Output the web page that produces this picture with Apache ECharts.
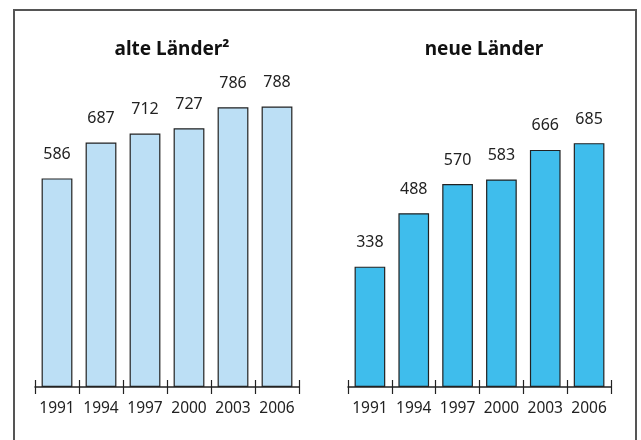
<!DOCTYPE html>
<html>
<head>
<meta charset="utf-8">
<script src="https://cdn.jsdelivr.net/npm/echarts@6/dist/echarts.min.js"></script>
<style>
  html, body { margin: 0; padding: 0; background: #fff; }
  #chart { width: 641px; height: 440px; }
</style>
</head>
<body>
<div id="chart"></div>
<script>
  // Jahre und Werte
  var years = ['1991', '1994', '1997', '2000', '2003', '2006'];
  var alteLaender = [586, 687, 712, 727, 786, 788];
  var neueLaender = [338, 488, 570, 583, 666, 685];
  var titles = ['alte Länder²', 'neue Länder'];

  var font = 'Noto Sans';
  var chart = echarts.init(document.getElementById('chart'));

  function xAxes(idx) {
    return [{
      type: 'category', gridIndex: idx, data: years, position: 'bottom',
      axisLine: { show: true, lineStyle: { color: '#222', width: 1.5 } },
      axisTick: { show: true, interval: 0, length: 7, lineStyle: { color: '#222', width: 1.2 } },
      axisLabel: { interval: 0, hideOverlap: false, color: '#222', fontSize: 15.5, fontFamily: font, margin: 14 }
    }, {
      type: 'category', gridIndex: idx, data: years, position: 'bottom',
      axisLine: { show: false },
      axisTick: { show: true, interval: 0, inside: true, length: 7, lineStyle: { color: '#222', width: 1.2 } },
      axisLabel: { show: false },
      z: 5
    }];
  }

  function bars(idx, values, color) {
    return {
      type: 'bar', xAxisIndex: idx * 2, yAxisIndex: idx, data: values,
      barWidth: '70%',
      itemStyle: { color: color, borderColor: '#222', borderWidth: 1.2 },
      label: { show: true, position: 'top', distance: 16, color: '#222', fontSize: 16, fontFamily: font }
    };
  }

  chart.setOption({
    animation: false,
    title: [
      { text: titles[0], left: 167, top: 35, textAlign: 'center',
        textStyle: { fontSize: 19, fontWeight: 'bold', color: '#111', fontFamily: font } },
      { text: titles[1], left: 479, top: 35, textAlign: 'center',
        textStyle: { fontSize: 19, fontWeight: 'bold', color: '#111', fontFamily: font } }
    ],
    graphic: [{
      type: 'rect', shape: { x: 14, y: 10, width: 622, height: 440 },
      style: { fill: 'none', stroke: '#555', lineWidth: 2 }
    }],
    grid: [
      { left: 35, right: 342, top: 31, bottom: 53 },
      { left: 348, right: 30, top: 31, bottom: 53 }
    ],
    xAxis: xAxes(0).concat(xAxes(1)),
    yAxis: [
      { type: 'value', gridIndex: 0, min: 0, max: 1000, show: false },
      { type: 'value', gridIndex: 1, min: 0, max: 1000, show: false }
    ],
    series: [
      bars(0, alteLaender, '#bcdff5'),
      bars(1, neueLaender, '#3fbdec')
    ]
  });
</script>
</body>
</html>
